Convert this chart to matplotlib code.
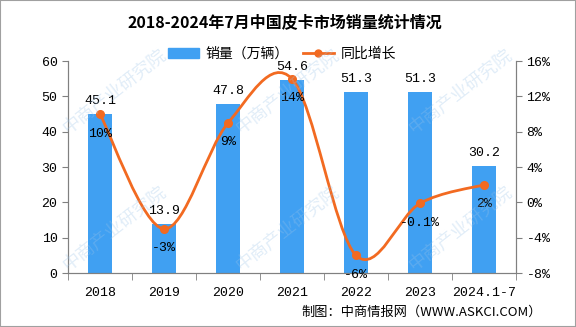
import numpy as np
import matplotlib.pyplot as plt
from matplotlib.path import Path
from matplotlib.patches import PathPatch, Rectangle

plt.rcParams['font.family'] = ['Noto Sans CJK SC', 'DejaVu Sans']

years = ['2018', '2019', '2020', '2021', '2022', '2023', '2024.1-7']
sales = [45.1, 13.9, 47.8, 54.6, 51.3, 51.3, 30.2]
growth = [10, -3, 9, 14, -6, -0.1, 2]
growth_labels = ['10%', '-3%', '9%', '14%', '-6%', '-0.1%', '2%']

BAR = '#40A0F2'
LINE = '#F26A21'
NUMFONT = ['Liberation Mono', 'DejaVu Sans Mono']

fig = plt.figure(figsize=(5.76, 3.27), dpi=100)
ax = fig.add_axes([0.118, 0.165, 0.778, 0.648])
ax2 = ax.twinx()

x = np.arange(len(years))
ax.bar(x, sales, width=0.38, color=BAR, zorder=2)
ax.set_xlim(-0.5, len(years) - 0.5)
ax.set_ylim(0, 60)
ax.set_yticks(range(0, 61, 10))
ax.set_xticks(x)
ax.set_xticklabels(years, fontfamily=NUMFONT, fontsize=9.5)
ax.set_xticks(np.arange(-0.5, len(years), 1), minor=True)
ax.tick_params(axis='x', which='major', length=0, pad=10)
ax.tick_params(axis='x', which='minor', length=5, color='#808080')
ax.tick_params(axis='y', length=4, color='#808080', labelsize=9.5)
for t in ax.get_yticklabels():
    t.set_fontfamily(NUMFONT)

for v, xi in zip(sales, x):
    ax.annotate(f'{v}', (xi, v), xytext=(0, 5), textcoords='offset points',
                ha='center', va='bottom', fontfamily=NUMFONT, fontsize=9.5)

ax2.set_ylim(-8, 16)
ax2.set_yticks(range(-8, 17, 4))
ax2.set_yticklabels([f'{t}%' for t in range(-8, 17, 4)], fontfamily=NUMFONT, fontsize=9.5)
ax2.tick_params(axis='y', length=4, color='#808080')

for a in (ax, ax2):
    a.spines['top'].set_visible(False)
    for s in ('left', 'right', 'bottom'):
        a.spines[s].set_color('#808080')

# smooth line through the growth points (Catmull-Rom as bezier segments)
pts = np.column_stack([x, growth]).astype(float)
ext = np.vstack([pts[0], pts, pts[-1]])
verts = [tuple(pts[0])]
codes = [Path.MOVETO]
for i in range(1, len(ext) - 2):
    p0, p1, p2, p3 = ext[i - 1], ext[i], ext[i + 1], ext[i + 2]
    c1 = p1 + (p2 - p0) / 6
    c2 = p2 - (p3 - p1) / 6
    verts += [tuple(c1), tuple(c2), tuple(p2)]
    codes += [Path.CURVE4] * 3
ax2.add_patch(PathPatch(Path(verts, codes), fill=False, edgecolor=LINE, lw=2, zorder=3))
ax2.plot(x, growth, 'o', color=LINE, ms=5.5, zorder=4)

for xi, g, lab in zip(x, growth, growth_labels):
    ax2.annotate(lab, (xi, g), xytext=(0, -14), textcoords='offset points',
                 ha='center', va='center', fontfamily=NUMFONT, fontsize=9.5, zorder=5)

# legend
h_bar = Rectangle((0, 0), 1, 1, color=BAR)
h_line, = ax2.plot([], [], '-o', color=LINE, lw=2, ms=5)
fig.legend([h_bar, h_line], ['销量（万辆）', '同比增长'], loc='center',
           bbox_to_anchor=(0.49, 0.835), ncol=2, frameon=False, fontsize=10,
           handlelength=2.2, columnspacing=1.0, handletextpad=0.5)

fig.text(0.495, 0.93, '2018-2024年7月中国皮卡市场销量统计情况', ha='center', va='center',
         fontsize=11.5, fontweight='bold')
fig.text(0.94, 0.045, '制图：中商情报网（WWW.ASKCI.COM）', ha='right', va='center',
         fontsize=9.5)

# watermark
for wx, wy in [(0.2, 0.72), (0.5, 0.72), (0.8, 0.72), (0.2, 0.3), (0.5, 0.3), (0.8, 0.3)]:
    fig.text(wx, wy, '中商产业研究院', rotation=38, color='#9CC4E8', alpha=0.3,
             fontsize=13, ha='center', va='center', zorder=10)

fig.add_artist(Rectangle((0, 0), 1, 1, transform=fig.transFigure, fill=False,
                         edgecolor='#A0A0A0', lw=1.5))

plt.savefig('out.png', dpi=100)
